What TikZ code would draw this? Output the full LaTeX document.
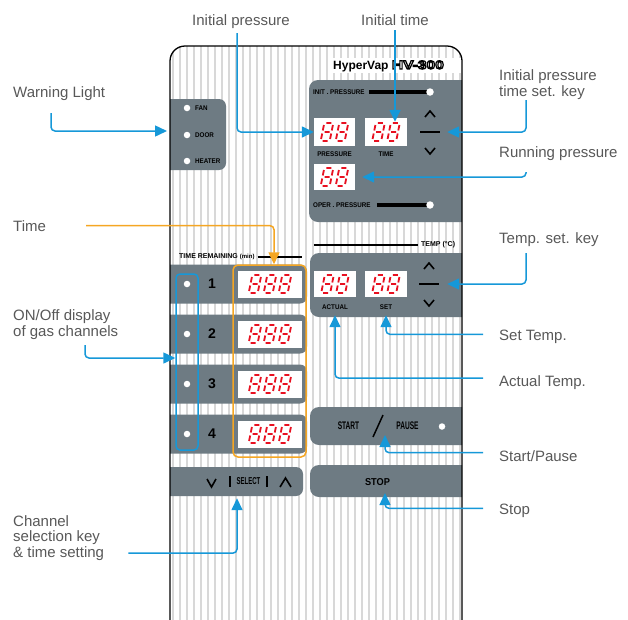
\documentclass[tikz,border=0pt]{standalone}
\usepackage{fontspec}
\setmainfont{Liberation Sans}
\newfontfamily\panelfont[FakeStretch=0.92]{Liberation Sans}
\newfontfamily\narrowfont[FakeStretch=0.6]{Liberation Sans}
\newfontfamily\widefont[FakeStretch=1.3, FakeBold=10]{Liberation Sans Bold}
\usetikzlibrary{arrows.meta,positioning}
\definecolor{panelgray}{RGB}{110,123,131}
\definecolor{stripegray}{RGB}{216,216,216}
\definecolor{callblue}{RGB}{22,152,216}
\definecolor{callorange}{RGB}{245,166,35}
\definecolor{labelgray}{RGB}{88,88,88}
\definecolor{segred}{RGB}{232,16,32}
\tikzset{
  panel/.style={fill=panelgray, rounded corners=7pt, inner sep=0pt},
  disp/.style={fill=white, inner sep=0pt},
  led/.style={circle, fill=white, minimum size=6.5pt, inner sep=0pt},
  small/.style={font=\panelfont\bfseries\fontsize{6.8}{7}\selectfont, inner sep=0pt},
  lbl/.style={font=\fontsize{15}{15.5}\selectfont, text=labelgray, inner sep=0pt, outer ysep=5pt, align=left},
  callout/.style={draw=callblue, line width=1.5pt, rounded corners=4pt, -{Triangle[length=12pt,width=11pt]}},
  keybar/.style={fill=black, minimum width=20pt, minimum height=1.8pt, inner sep=0pt},
  chev/.style={line width=1.6pt},
  pics/segs/.style={code={
    \foreach \k in {1,...,#1}
      \draw[segred, line width=1.8pt, xshift={(\k-1)*15pt}, xslant=0.2]
        (2,0) -- (7,0) (0,2) -- (0,7.5) (9,2) -- (9,7.5) (2,9) -- (7,9)
        (0,10.5) -- (0,16) (9,10.5) -- (9,16) (2,18) -- (7,18);
  }}
}
\begin{document}
\begin{tikzpicture}[x=1pt,y=-1pt]
\useasboundingbox (0,0) rectangle (628,619);

% body of the unit
\begin{scope}
  \clip[rounded corners=15pt] (170,640) -- (170,46) -- (462,46) -- (462,640) -- cycle;
  \fill[white] (170,40) rectangle (470,640);
  \foreach \x in {173,180,...,460}
    \draw[stripegray, line width=1.2pt] (\x,40) -- (\x,640);
  \fill[white] (328,58) rectangle (470,73);
  \node[panel, minimum width=66pt, minimum height=71pt] (p_warn) at (193,134.5) {};
  \node[panel, rounded corners=9pt, minimum width=166pt, minimum height=142pt] (p_press) at (392,151) {};
  \node[panel, rounded corners=9pt, minimum width=165pt, minimum height=64pt] (p_temp) at (392.5,285) {};
  \foreach \k in {1,...,4}
    \node[panel, minimum width=147pt, minimum height=39pt] (p_ch\k) at (233.5,{234+50*\k}) {};
  \node[panel, minimum width=143pt, minimum height=29pt] (p_sel) at (231.5,481.5) {};
  \node[panel, rounded corners=9pt, minimum width=165pt, minimum height=38pt] (p_start) at (392.5,426) {};
  \node[panel, rounded corners=9pt, minimum width=165pt, minimum height=32pt] (p_stop) at (392.5,481) {};
\end{scope}
\draw[line width=1.3pt, rounded corners=15pt] (170,640) -- (170,46) -- (462,46) -- (462,640);

\node[font=\bfseries\fontsize{12}{12}\selectfont, anchor=base west, inner sep=0pt] (title) at (333,69)
  {HyperVap {\widefont\mdseries\color{white}\special{pdf:literal direct 0 G}HV-300}};

% warning lights
\node[led] (w_fan) at (187,108) {};
\node[led] (w_door) at (187,135) {};
\node[led] (w_heat) at (187,161) {};
\node[small, right=4.5pt of w_fan] (w_fan_t) {FAN};
\node[small, right=4.5pt of w_door] (w_door_t) {DOOR};
\node[small, right=4.5pt of w_heat] (w_heat_t) {HEATER};

% pressure
\node[small, anchor=west] (t_init) at (313,92) {INIT . PRESSURE};
\draw[line width=4pt] ([xshift=4pt]t_init.east) -- (430,92);
\node[led, minimum size=7.5pt] (l_init) at (430,92) {};
\node[disp, minimum width=41pt, minimum height=28pt] (d_press) at (334.5,132) {};
\node[disp, minimum width=42pt, minimum height=28pt] (d_time) at (386,132) {};
\node[disp, minimum width=41pt, minimum height=26pt] (d_run) at (334.5,177) {};
\pic at ([shift={(-10.2,-9)}]d_press.center) {segs=2};
\pic at ([shift={(-10.2,-9)}]d_time.center) {segs=2};
\pic at ([shift={(-10.2,-9)}]d_run.center) {segs=2};
\node[small, below=5pt of d_press] (c_press) {PRESSURE};
\node[small, below=5pt of d_time] (c_time) {TIME};
\node[keybar] (k_press) at (430,132) {};
\draw[chev] ([shift={(-5,-15)}]k_press.center) -- ++(5,-6) -- ++(5,6);
\draw[chev] ([shift={(-5,16)}]k_press.center) -- ++(5,6) -- ++(5,-6);
\node[small, anchor=west] (t_oper) at (313,205) {OPER . PRESSURE};
\draw[line width=4pt] ([xshift=6pt]t_oper.east) -- (430,205);
\node[led, minimum size=7.5pt] (l_oper) at (430,205) {};

% temperature
\node[disp, minimum width=42pt, minimum height=26pt] (d_act) at (335,284) {};
\node[disp, minimum width=42pt, minimum height=26pt] (d_set) at (386,284) {};
\pic at ([shift={(-10.2,-9)}]d_act.center) {segs=2};
\pic at ([shift={(-10.2,-9)}]d_set.center) {segs=2};
\node[small, below=7.5pt of d_act] (c_act) {ACTUAL};
\node[small, below=7.5pt of d_set] (c_set) {SET};
\node[small, font=\bfseries\fontsize{7}{7}\selectfont, anchor=west] (t_temp) at (421,245) {TEMP (°C)};
\draw[line width=1.5pt] (t_temp.west -| d_act.west) -- ([xshift=-3pt]t_temp.west);
\node[keybar] (k_temp) at (429,284) {};
\draw[chev] ([shift={(-5,-15)}]k_temp.center) -- ++(5,-6) -- ++(5,6);
\draw[chev] ([shift={(-5,16)}]k_temp.center) -- ++(5,6) -- ++(5,-6);

% gas channels
\foreach \k in {1,...,4} {
  \node[disp, minimum width=64pt, minimum height=27pt] (d_ch\k) at (270,{234+50*\k}) {};
  \pic at ([shift={(-17.7,-9)}]d_ch\k.center) {segs=3};
  \node[led] (c_led\k) at (187,{234+50*\k}) {};
  \node[font=\bfseries\fontsize{14}{14}\selectfont, inner sep=0pt] (c_num\k) at (212,{234+50*\k}) {\k};
}
\node[font=\bfseries\fontsize{7}{7}\selectfont, anchor=west, inner sep=0pt] (t_rem) at (179,257)
  {TIME REMAINING {\fontsize{6}{6}\selectfont (min)}};
\draw[line width=1.5pt] ([xshift=3pt]t_rem.east) -- (t_rem.east -| d_ch1.east);
\node[draw=callblue, line width=1.5pt, rounded corners=4pt, minimum width=22pt, minimum height=176pt, inner sep=0pt] (b_led) at (187,362) {};
\node[draw=callorange, line width=1.5pt, rounded corners=5pt, minimum width=73pt, minimum height=192pt, inner sep=0pt] (b_time) at (269.5,361) {};

% select
\draw[chev] (207,479) -- (211.5,487) -- (216,479);
\draw[line width=2pt] (230,476) -- (230,487);
\node[font=\narrowfont\bfseries\fontsize{10}{10}\selectfont, inner sep=0pt] (s_sel) at (248.5,481.5) {SELECT};
\draw[line width=2pt] (267,476) -- (267,487);
\draw[chev] (280,487) -- (285.5,478) -- (291,487);

% start / stop
\node[font=\narrowfont\bfseries\fontsize{11}{11}\selectfont, inner sep=0pt] (s_start) at (348.5,426) {START};
\draw[line width=1.5pt] (373,437) -- (383,415);
\node[font=\narrowfont\bfseries\fontsize{11}{11}\selectfont, inner sep=0pt] (s_pause) at (407.5,426) {PAUSE};
\node[led] (s_led) at (442,426.5) {};
\node[font=\panelfont\bfseries\fontsize{10}{10}\selectfont, inner sep=0pt] (s_stop) at (377.5,482) {STOP};

% labels
\node[lbl, anchor=base] (lab_initp) at (241,25) {Initial pressure};
\node[lbl, anchor=base] (lab_initt) at (395,25) {Initial time};
\node[lbl, anchor=base west] (lab_warn) at (13,97) {Warning Light};
\node[lbl, anchor=base west] (lab_time) at (13,231) {Time};
\node[lbl, anchor=base west] (lab_onoff) at (13,336) {ON/Off display\\of gas channels};
\node[lbl, anchor=base west] (lab_chan) at (13,557) {Channel\\selection key\\\& time setting};
\node[lbl, anchor=base west] (lab_keyp) at (499,96) {Initial pressure\\time set. key};
\node[lbl, anchor=base west] (lab_run) at (499,157) {Running pressure};
\node[lbl, anchor=base west] (lab_tkey) at (499,243) {Temp. set. key};
\node[lbl, anchor=base west] (lab_sett) at (499,340) {Set Temp.};
\node[lbl, anchor=base west] (lab_actt) at (499,386) {Actual Temp.};
\node[lbl, anchor=base west] (lab_start) at (499,461) {Start/Pause};
\node[lbl, anchor=base west] (lab_stop) at (499,514) {Stop};

% arrow ends
\coordinate (tip_time) at ([shift={(9,4)}]d_time.north);
\coordinate (tip_warn) at (167,131);
\coordinate (tip_tbox) at ([xshift=4.5pt]b_time.north);
\coordinate (tip_sel) at ([shift={(5.5,2)}]p_sel.south);
\coordinate (tip_set) at ([yshift=2pt]d_set |- p_temp.south);
\coordinate (tip_act) at ([yshift=2pt]d_act |- p_temp.south);
\coordinate (tip_start) at (385,435);
\coordinate (tip_stop) at (385,493);

\draw[callout] ([xshift=-4pt]lab_initp.south) |- (d_press.west);
\draw[callout] (lab_initt.south) -- (tip_time);
\draw[callout] ([shift={(38,8)}]lab_warn.south west) |- (tip_warn);
\draw[callout, draw=callorange] ([xshift=40pt]lab_time.east) -| (tip_tbox);
\draw[callout] ([shift={(72,1)}]lab_onoff.south west) |- ([yshift=4pt]b_led.west);
\draw[callout] ([shift={(24,-12)}]lab_chan.south east) -| (tip_sel);
\draw[callout] ([shift={(27,-4)}]lab_keyp.south west) |- ([xshift=7pt]k_press.east);
\draw[callout] ([shift={(27,7)}]lab_run.south west) |- ([xshift=7pt]d_run.east);
\draw[callout] ([shift={(27,2)}]lab_tkey.south west) |- ([xshift=8pt]k_temp.east);
\draw[callout] ([shift={(-16,-2)}]lab_sett.west) -| (tip_set);
\draw[callout] ([shift={(-16,-4)}]lab_actt.west) -| (tip_act);
\draw[callout] ([shift={(-16,-3)}]lab_start.west) -| (tip_start);
\draw[callout] ([shift={(-16,-2)}]lab_stop.west) -| (tip_stop);
\end{tikzpicture}
\end{document}
